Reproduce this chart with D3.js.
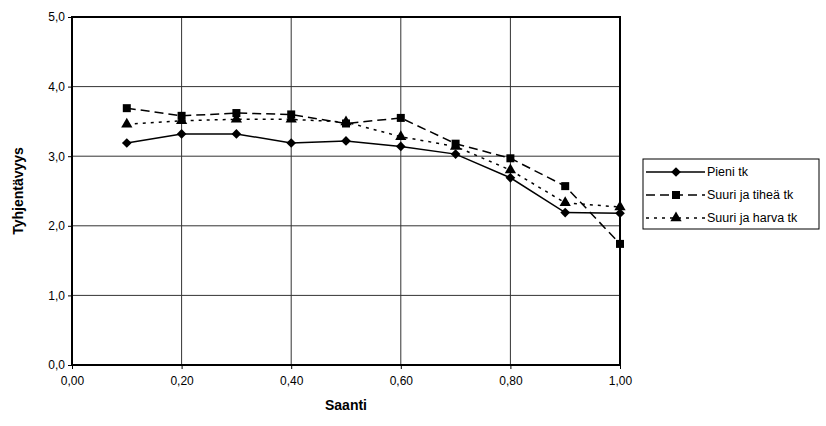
<!DOCTYPE html>
<html>
<head>
<meta charset="utf-8">
<script src="https://cdn.jsdelivr.net/npm/d3@7"></script>
<style>
  body { margin: 0; background: #fff; }
  svg { font-family: "Liberation Sans", Arial, sans-serif; }
</style>
</head>
<body>
<div id="chart"></div>
<script>
const saanti = [0.1, 0.2, 0.3, 0.4, 0.5, 0.6, 0.7, 0.8, 0.9, 1.0];
const pieni = [3.19, 3.32, 3.32, 3.19, 3.22, 3.14, 3.03, 2.69, 2.19, 2.18];
const suuriTihea = [3.69, 3.58, 3.62, 3.60, 3.47, 3.55, 3.18, 2.97, 2.57, 1.74];
const suuriHarva = [3.46, 3.51, 3.53, 3.53, 3.49, 3.28, 3.14, 2.80, 2.33, 2.27];
const xTicks = [0, 0.2, 0.4, 0.6, 0.8, 1.0];
const yTicks = [0, 1, 2, 3, 4, 5];

const series = [
    {name: "Pieni tk", values: pieni, dash: null, marker: "diamond"},
    {name: "Suuri ja tiheä tk", values: suuriTihea, dash: "9,5", marker: "square"},
    {name: "Suuri ja harva tk", values: suuriHarva, dash: "3,5", marker: "triangle"}
];

const width = 826, height = 426;
const margin = {top: 17, right: 206, bottom: 61, left: 72};

const svg = d3.select("#chart").append("svg")
    .attr("width", width)
    .attr("height", height);

const x = d3.scaleLinear().domain([0, 1]).range([margin.left, width - margin.right]);
const y = d3.scaleLinear().domain([0, 5]).range([height - margin.bottom, margin.top]);

// grid
svg.append("g")
    .selectAll("line")
    .data(yTicks)
    .join("line")
    .attr("x1", x(0)).attr("x2", x(1))
    .attr("y1", d => y(d)).attr("y2", d => y(d))
    .attr("stroke", "#333").attr("stroke-width", 1);
svg.append("g")
    .selectAll("line")
    .data(xTicks)
    .join("line")
    .attr("y1", y(0)).attr("y2", y(5))
    .attr("x1", d => x(d)).attr("x2", d => x(d))
    .attr("stroke", "#333").attr("stroke-width", 1);

// frame
svg.append("rect")
    .attr("x", x(0)).attr("y", y(5))
    .attr("width", x(1) - x(0)).attr("height", y(0) - y(5))
    .attr("fill", "none").attr("stroke", "#000").attr("stroke-width", 2);

// axes
const fmt = d3.format(".2f");
svg.append("g")
    .attr("transform", `translate(0,${y(0)})`)
    .call(d3.axisBottom(x).tickValues(xTicks).tickSize(4).tickFormat(d => fmt(d).replace(".", ",")))
    .call(g => g.select(".domain").remove())
    .call(g => g.selectAll("text").attr("font-size", 12).attr("dy", "1.1em").attr("fill", "#000").style("font-family", "Liberation Sans, Arial"));
svg.append("g")
    .attr("transform", `translate(${x(0)},0)`)
    .call(d3.axisLeft(y).tickValues(yTicks).tickSize(4).tickFormat(d => d3.format(".1f")(d).replace(".", ",")))
    .call(g => g.select(".domain").remove())
    .call(g => g.selectAll("text").attr("font-size", 12).attr("fill", "#000").style("font-family", "Liberation Sans, Arial"));

// titles
svg.append("text")
    .attr("x", (x(0) + x(1)) / 2).attr("y", 410)
    .attr("text-anchor", "middle")
    .attr("font-size", 14).attr("font-weight", "bold")
    .text("Saanti");
svg.append("text")
    .attr("transform", `translate(23,${(y(0) + y(5)) / 2}) rotate(-90)`)
    .attr("text-anchor", "middle")
    .attr("font-size", 14).attr("font-weight", "bold")
    .text("Tyhjentävyys");

const symbolOf = {
    diamond: d3.symbol().type(d3.symbolDiamond2).size(60),
    square: d3.symbol().type(d3.symbolSquare).size(64),
    triangle: d3.symbol().type(d3.symbolTriangle).size(55)
};

const line = d3.line()
    .x((d, i) => x(saanti[i]))
    .y(d => y(d));

series.forEach(s => {
    svg.append("path")
        .attr("fill", "none")
        .attr("stroke", "#000")
        .attr("stroke-width", 1.5)
        .attr("stroke-dasharray", s.dash)
        .attr("d", line(s.values));
    svg.append("g")
        .selectAll("path")
        .data(s.values)
        .join("path")
        .attr("transform", (d, i) => `translate(${x(saanti[i])},${y(d)})`)
        .attr("d", symbolOf[s.marker]())
        .attr("fill", "#000");
});

// legend
const legend = svg.append("g").attr("transform", "translate(643,159)");
legend.append("rect")
    .attr("width", 176).attr("height", 70)
    .attr("fill", "#fff").attr("stroke", "#000").attr("stroke-width", 1);
series.forEach((s, i) => {
    const ly = 13 + i * 23;
    legend.append("line")
        .attr("x1", 3).attr("x2", 62)
        .attr("y1", ly).attr("y2", ly)
        .attr("stroke", "#000").attr("stroke-width", 1.5)
        .attr("stroke-dasharray", s.dash);
    legend.append("path")
        .attr("transform", `translate(33,${ly})`)
        .attr("d", symbolOf[s.marker]())
        .attr("fill", "#000");
    legend.append("text")
        .attr("x", 64).attr("y", ly)
        .attr("dy", "0.35em")
        .attr("font-size", 12.5)
        .text(s.name);
});
</script>
</body>
</html>
